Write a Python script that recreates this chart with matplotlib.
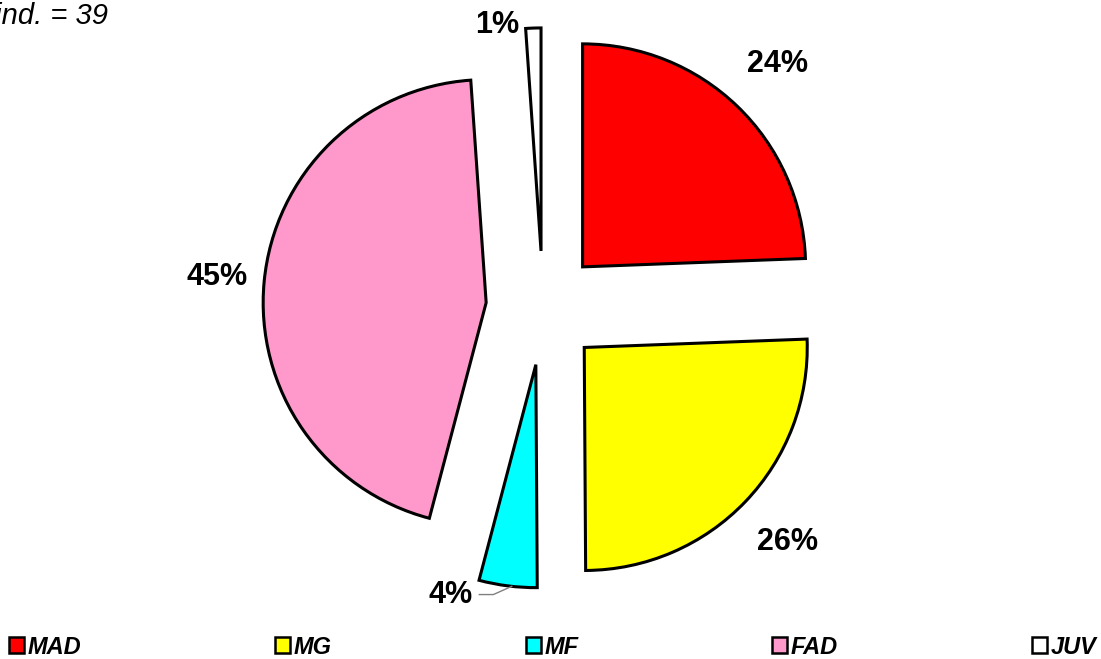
import numpy as np
import matplotlib.pyplot as plt

plt.rcParams['font.family'] = ['Liberation Sans', 'DejaVu Sans']

# shares (percent of individuals)
categories = ['MAD', 'MG', 'MF', 'FAD', 'JUV']
shares = [24.4, 25.5, 4.2, 44.8, 1.1]
colors = ['#FF0000', '#FFFF00', '#00FFFF', '#FF99CC', '#FFFFFF']
title_text = 'N ind. = 39'

W, H = 1101, 659
fig = plt.figure(figsize=(W / 100, H / 100), dpi=100)
ax = fig.add_axes([0, 0, 1, 1])

wedges, texts, autotexts = ax.pie(
    shares, colors=colors, explode=[0.256] * len(shares),
    startangle=90, counterclock=False,
    autopct='%.0f%%', pctdistance=1.26,
    wedgeprops=dict(edgecolor='black', linewidth=2.2),
    textprops=dict(fontsize=22, fontweight='bold'))

# per-label tweaks (distance from slice centre, angle in degrees), like Excel did
label_tweaks = {'FAD': (1.21, None), 'MF': (1.10, 249.6), 'JUV': (1.03, 101.0)}
for name, w, t in zip(categories, wedges, autotexts):
    if name not in label_tweaks:
        continue
    r, ang = label_tweaks[name]
    if ang is None:
        ang = 0.5 * (w.theta1 + w.theta2)
    cx, cy = w.center
    a = np.deg2rad(ang)
    t.set_position((cx + r * np.cos(a), cy + r * np.sin(a)))

# leader line for the small MF label
mf = wedges[categories.index('MF')]
lx, ly = autotexts[categories.index('MF')].get_position()
end_a = np.deg2rad(0.5 * (mf.theta1 + mf.theta2) + 1.0)
ex, ey = mf.center[0] + np.cos(end_a), mf.center[1] + np.sin(end_a)
ax.plot([lx + 0.13, lx + 0.193, ex], [ly, ly, ey], color='#808080', lw=1)

# 223 px per unit, pie centre at (543, 308) px from top-left
s = 223.0
ax.set_xlim(-543 / s, (W - 543) / s)
ax.set_ylim(-(H - 308) / s, 308 / s)
ax.set_aspect('auto')
ax.axis('off')

fig.text(108 / W, 1 - 24 / H, title_text, ha='right', va='baseline',
         fontsize=21, style='italic')

leg = fig.legend(wedges, categories, loc='center left',
                 bbox_to_anchor=(9 / W, 12 / H), ncol=5, frameon=False,
                 borderpad=0, borderaxespad=0, handlelength=0.65,
                 handleheight=0.65, handletextpad=0.15, columnspacing=8.2,
                 prop=dict(size=17, weight='bold', style='italic'))
for p in leg.get_patches():
    p.set_linewidth(1.8)

fig.savefig('out.png', dpi=100)
